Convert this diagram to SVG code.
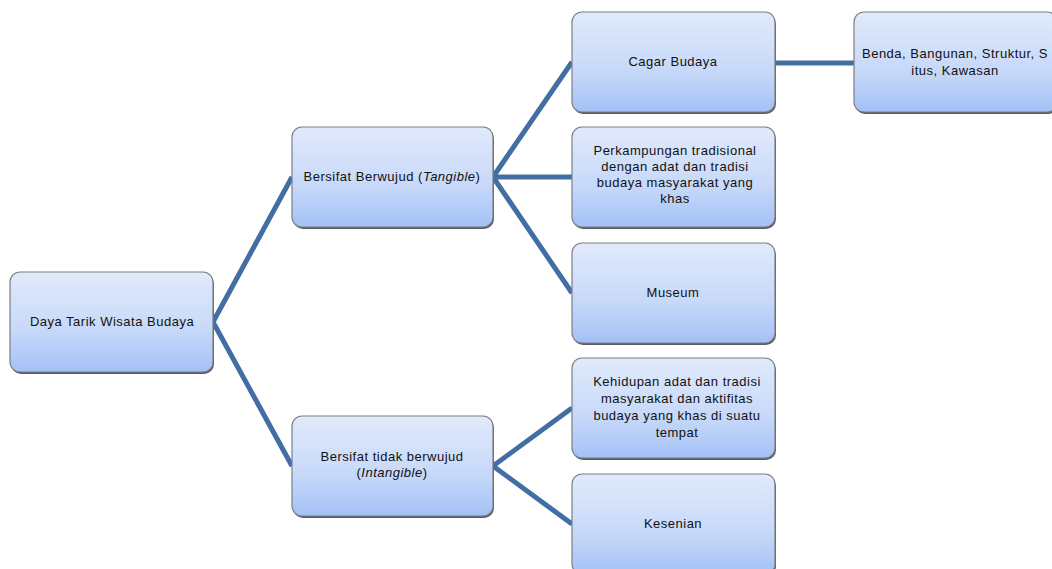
<svg xmlns="http://www.w3.org/2000/svg" width="1052" height="569" viewBox="0 0 1052 569">
<defs>
<linearGradient id="g" x1="0" y1="0" x2="0" y2="1">
<stop offset="0" stop-color="#e1eafb"/>
<stop offset="0.6" stop-color="#c6d8f9"/>
<stop offset="1" stop-color="#a3c1f6"/>
</linearGradient>
<style>
.box{fill:url(#g);stroke:#7c7f86;stroke-width:1.2}
.sh{fill:#5a5d66}
.t{font-family:"Liberation Sans",Arial,sans-serif;font-size:13px;letter-spacing:0.5px;fill:#111;text-anchor:middle}
.c{stroke:#436ea3;stroke-width:5;fill:none;stroke-linejoin:round}
</style>
</defs>
<rect width="1052" height="569" fill="#fff"/>
<g id="connectors">
<polyline class="c" points="292,177 213,322 292,466"/>
<polyline class="c" points="572,62 493,177 572,293"/>
<line class="c" x1="493" y1="177" x2="572" y2="177"/>
<polyline class="c" points="572,408 493,466 572,524"/>
<line class="c" x1="775" y1="63" x2="855" y2="63"/>
</g>
<g id="root">
<rect class="sh" x="11" y="274" width="203" height="100" rx="10"/>
<rect class="box" x="10" y="272" width="203" height="100" rx="10"/>
<text class="t" x="112" y="326">Daya Tarik Wisata Budaya</text>
</g>
<g id="tangible">
<rect class="sh" x="293" y="129" width="201" height="100" rx="10"/>
<rect class="box" x="292" y="127" width="201" height="100" rx="10"/>
<text class="t" x="392" y="181">Bersifat Berwujud (<tspan font-style="italic">Tangible</tspan>)</text>
</g>
<g id="intangible">
<rect class="sh" x="293" y="418" width="201" height="100" rx="10"/>
<rect class="box" x="292" y="416" width="201" height="100" rx="10"/>
<text class="t" x="392" y="461">Bersifat tidak berwujud</text>
<text class="t" x="392" y="477">(<tspan font-style="italic">Intangible</tspan>)</text>
</g>
<g id="cagar">
<rect class="sh" x="573" y="14" width="203" height="100" rx="10"/>
<rect class="box" x="572" y="12" width="203" height="100" rx="10"/>
<text class="t" x="673" y="66">Cagar Budaya</text>
</g>
<g id="benda">
<rect class="sh" x="855" y="14" width="203" height="100" rx="10"/>
<rect class="box" x="854" y="12" width="203" height="100" rx="10"/>
<text class="t" x="955" y="58">Benda, Bangunan, Struktur, S</text>
<text class="t" x="955" y="75">itus, Kawasan</text>
</g>
<g id="perkampungan">
<rect class="sh" x="573" y="129" width="203" height="100" rx="10"/>
<rect class="box" x="572" y="127" width="203" height="100" rx="10"/>
<text class="t" x="675" y="155">Perkampungan tradisional</text>
<text class="t" x="675" y="171">dengan adat dan tradisi</text>
<text class="t" x="675" y="187">budaya masyarakat yang</text>
<text class="t" x="675" y="203">khas</text>
</g>
<g id="museum">
<rect class="sh" x="573" y="245" width="203" height="100" rx="10"/>
<rect class="box" x="572" y="243" width="203" height="100" rx="10"/>
<text class="t" x="673" y="297">Museum</text>
</g>
<g id="kehidupan">
<rect class="sh" x="573" y="360" width="203" height="100" rx="10"/>
<rect class="box" x="572" y="358" width="203" height="100" rx="10"/>
<text class="t" x="677" y="386">Kehidupan adat dan tradisi</text>
<text class="t" x="677" y="403">masyarakat dan aktifitas</text>
<text class="t" x="677" y="420">budaya yang khas di suatu</text>
<text class="t" x="677" y="437">tempat</text>
</g>
<g id="kesenian">
<rect class="sh" x="573" y="476" width="203" height="100" rx="10"/>
<rect class="box" x="572" y="474" width="203" height="100" rx="10"/>
<text class="t" x="673" y="528">Kesenian</text>
</g>
</svg>
